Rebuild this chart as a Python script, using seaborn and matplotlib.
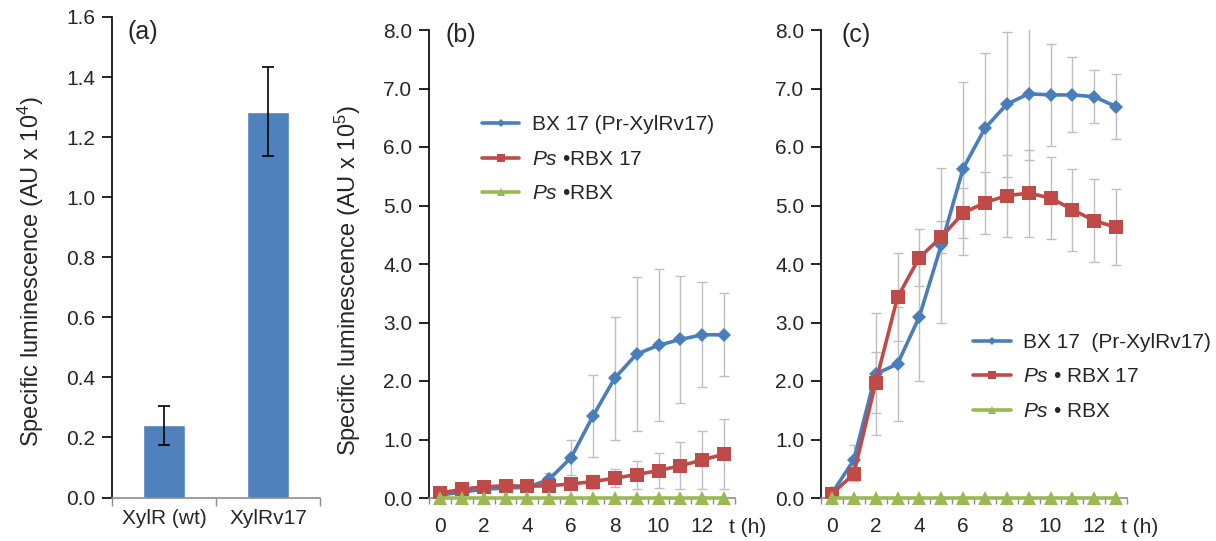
import pandas as pd
import matplotlib
matplotlib.use("Agg")
import matplotlib.pyplot as plt
from matplotlib.ticker import FormatStrFormatter, MultipleLocator, FixedLocator
import seaborn as sns

# panel (a) data
strains = ["XylR (wt)", "XylRv17"]
lum = [0.24, 1.285]
lum_err = [0.065, 0.147]

# time course data (b) and (c)
hours = list(range(14))
b_bx17 = [0.05, 0.10, 0.15, 0.17, 0.18, 0.32, 0.69, 1.40, 2.05, 2.46, 2.61, 2.71, 2.79, 2.79]
b_bx17_err = [0.02, 0.03, 0.04, 0.05, 0.05, 0.10, 0.30, 0.70, 1.05, 1.32, 1.30, 1.08, 0.90, 0.71]
b_rbx17 = [0.08, 0.15, 0.19, 0.21, 0.20, 0.21, 0.24, 0.28, 0.34, 0.40, 0.47, 0.55, 0.65, 0.75]
b_rbx17_err = [0.02, 0.04, 0.05, 0.05, 0.05, 0.06, 0.08, 0.12, 0.16, 0.24, 0.30, 0.40, 0.50, 0.60]
b_rbx = [0.0] * 14

c_bx17 = [0.08, 0.65, 2.12, 2.29, 3.10, 4.32, 5.63, 6.32, 6.73, 6.91, 6.89, 6.89, 6.86, 6.69]
c_bx17_err = [0.02, 0.26, 1.05, 0.98, 1.10, 1.32, 1.48, 1.28, 1.24, 1.13, 0.87, 0.64, 0.45, 0.55]
c_rbx17 = [0.07, 0.41, 1.97, 3.43, 4.11, 4.46, 4.87, 5.05, 5.17, 5.21, 5.13, 4.93, 4.74, 4.63]
c_rbx17_err = [0.02, 0.12, 0.52, 0.75, 0.49, 0.27, 0.43, 0.53, 0.70, 0.74, 0.70, 0.70, 0.71, 0.65]
c_rbx = [0.0] * 14

BLUE = "#4A7EBB"
RED = "#BE4B48"
GREEN = "#98B954"
BAR = "#4F81BD"
ERR = "#BFBFBF"
AXGRAY = "#8C8C8C"

sns.set_style("white")
plt.rcParams["font.family"] = ["Liberation Sans", "DejaVu Sans"]
plt.rcParams["mathtext.fontset"] = "custom"
plt.rcParams["mathtext.rm"] = "Liberation Sans"
plt.rcParams["mathtext.it"] = "Liberation Sans:italic"

FS = 15        # tick labels
FS_LAB = 17    # axis labels
FS_LEG = 15    # legends
FS_PAN = 18    # (a) (b) (c)

fig = plt.figure(figsize=(12.16, 5.41), dpi=100)
ax_a = fig.add_axes([112 / 1216, 43.5 / 541, 208 / 1216, 480.5 / 541])
ax_b = fig.add_axes([429 / 1216, 43 / 541, 306 / 1216, 468 / 541])
ax_c = fig.add_axes([821 / 1216, 43 / 541, 306 / 1216, 468 / 541])


def style_axes(ax):
    for s in ["top", "right"]:
        ax.spines[s].set_visible(False)
    ax.spines["left"].set_color("black")
    ax.spines["left"].set_linewidth(1.2)
    ax.spines["bottom"].set_color(AXGRAY)
    ax.spines["bottom"].set_linewidth(1.2)
    ax.tick_params(axis="y", which="major", direction="out", length=7, width=1.2,
                   color="black", labelsize=FS, pad=5, left=True)
    ax.tick_params(axis="x", which="major", length=0, labelsize=FS)
    ax.tick_params(axis="x", which="minor", direction="out", length=4, width=1.0,
                   color=AXGRAY, bottom=True)


# (a) bar chart
df_a = pd.DataFrame({"strain": strains, "lum": lum})
sns.barplot(data=df_a, x="strain", y="lum", color=BAR, width=0.4, errorbar=None,
            saturation=1, ax=ax_a)
ax_a.errorbar(range(len(strains)), lum, yerr=lum_err, fmt="none", ecolor="black",
              elinewidth=1.2, capsize=4, capthick=1.2)
ax_a.set_xlim(-0.5, 1.5)
ax_a.set_ylim(0, 1.6)
ax_a.yaxis.set_major_locator(MultipleLocator(0.2))
ax_a.yaxis.set_major_formatter(FormatStrFormatter("%.1f"))
ax_a.xaxis.set_minor_locator(FixedLocator([-0.5, 0.5, 1.5]))
style_axes(ax_a)
ax_a.tick_params(axis="x", which="major", pad=8)
ax_a.tick_params(axis="x", which="minor", length=6)
ax_a.set_xlabel("")
ax_a.set_ylabel("Specific luminescence (AU x 10$^4$)", fontsize=FS_LAB)
ax_a.yaxis.set_label_coords(-0.317, 0.471)
ax_a.text(0.149, 0.969, "(a)", transform=ax_a.transAxes, fontsize=FS_PAN,
          ha="center", va="center")


# (b) and (c) time courses
def time_course(ax, bx, bx_err, r17, r17_err, rbx, labels):
    for vals, errs in [(bx, bx_err), (r17, r17_err)]:
        ax.errorbar(hours, vals, yerr=errs, fmt="none", ecolor=ERR, elinewidth=1.0,
                    capsize=3.5, capthick=1.0, zorder=1)
    sns.lineplot(x=hours, y=bx, color=BLUE, marker="D", markersize=7.5,
                 markeredgewidth=0, linewidth=2.6, label=labels[0], ax=ax, zorder=3)
    sns.lineplot(x=hours, y=r17, color=RED, marker="s", markersize=10,
                 markeredgewidth=0, linewidth=2.6, label=labels[1], ax=ax, zorder=4)
    sns.lineplot(x=hours, y=rbx, color=GREEN, marker="^", markersize=10.5,
                 markeredgewidth=0, linewidth=2.6, label=labels[2], ax=ax, zorder=5,
                 clip_on=False)
    ax.set_xlim(-0.5, 13.5)
    ax.set_ylim(0, 8)
    ax.yaxis.set_major_locator(MultipleLocator(1.0))
    ax.yaxis.set_major_formatter(FormatStrFormatter("%.1f"))
    ax.xaxis.set_major_locator(FixedLocator([0, 2, 4, 6, 8, 10, 12]))
    ax.xaxis.set_minor_locator(FixedLocator([h + 0.5 for h in range(-1, 14)]))
    style_axes(ax)
    ax.tick_params(axis="x", which="major", pad=14)
    ax.text(14.1, -0.062, "t (h)", transform=ax.get_xaxis_transform(),
            fontsize=FS, ha="center", va="center", clip_on=False)


time_course(ax_b, b_bx17, b_bx17_err, b_rbx17, b_rbx17_err, b_rbx,
            ["BX 17 (Pr-XylRv17)", "$\\it{Ps}$ \u2022RBX 17", "$\\it{Ps}$ \u2022RBX"])
ax_b.set_ylabel("Specific luminescence (AU x 10$^5$)", fontsize=FS_LAB)
ax_b.yaxis.set_label_coords(-0.216, 0.464)
ax_b.text(0.105, 0.989, "(b)", transform=ax_b.transAxes, fontsize=FS_PAN,
          ha="center", va="center")
ax_b.legend(loc="upper left", bbox_to_anchor=(0.173, 0.818), frameon=False,
            fontsize=FS_LEG, handlelength=1.8, handletextpad=0.6, labelspacing=0.75,
            borderpad=0, borderaxespad=0, markerscale=0.6)

time_course(ax_c, c_bx17, c_bx17_err, c_rbx17, c_rbx17_err, c_rbx,
            ["BX 17  (Pr-XylRv17)", "$\\it{Ps}$ \u2022 RBX 17", "$\\it{Ps}$ \u2022 RBX"])
ax_c.set_ylabel("")
ax_c.text(0.114, 0.989, "(c)", transform=ax_c.transAxes, fontsize=FS_PAN,
          ha="center", va="center")
ax_c.legend(loc="upper left", bbox_to_anchor=(0.497, 0.353), frameon=False,
            fontsize=FS_LEG, handlelength=1.8, handletextpad=0.6, labelspacing=0.75,
            borderpad=0, borderaxespad=0, markerscale=0.6)

fig.savefig("out.png", dpi=100)
